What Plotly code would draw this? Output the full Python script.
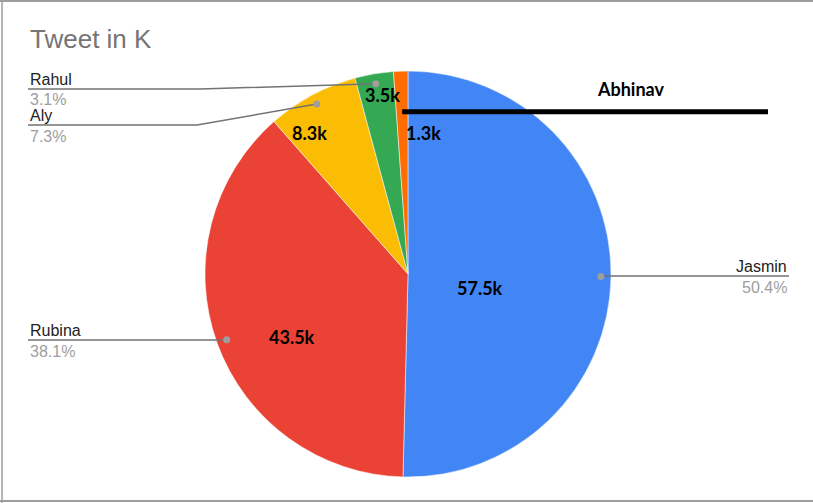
import math
import plotly.graph_objects as go

# ---- data ----
names = ["Jasmin", "Rubina", "Aly", "Rahul", "Abhinav"]
tweets_k = [57.5, 43.5, 8.3, 3.5, 1.3]
colors = ["#4285F4", "#EA4335", "#FBBC04", "#34A853", "#FF6D01"]
title_text = "Tweet in K"

# ---- style: value-label placement (radius fraction, angle nudge in degrees) ----
value_label_rf = [0.36, 0.65, 0.85, 0.89, 0.70]
value_label_dang = [10, -8.5, -6.7, 1.5, 8.5]

W, H = 813, 503
CX, CY, R = 408, 274, 203  # pie geometry in px


def px(x):
    return x / W


def py(y):
    return 1 - y / H


total = sum(tweets_k)
fracs = [v / total for v in tweets_k]
mids = []
acc = 0
for f in fracs:
    mids.append((acc + f / 2) * 2 * math.pi)
    acc += f


def polar(i, rf, dang=0.0):
    a = mids[i] + math.radians(dang)
    return CX + math.sin(a) * R * rf, CY - math.cos(a) * R * rf


fig = go.Figure()
fig.add_trace(go.Pie(
    labels=names, values=tweets_k, sort=False, direction="clockwise", rotation=0,
    marker=dict(colors=colors, line=dict(color="white", width=0.5)),
    textinfo="none",
    domain=dict(x=[px(CX - R), px(CX + R)], y=[py(CY + R), py(CY - R)]),
    showlegend=False, hoverinfo="label+value+percent",
))

shapes = []
annotations = []
lab_font = dict(family="Liberation Sans, Arial", size=16, color="#222222")
pct_font = dict(family="Liberation Sans, Arial", size=16, color="#9e9e9e")
val_font = dict(family="Lato", size=18, color="black")
line_col = "#737373"

# value labels inside the pie
for i, v in enumerate(tweets_k):
    lx, ly = polar(i, value_label_rf[i], value_label_dang[i])
    annotations.append(dict(text=f"<b>{v}k</b>", x=px(lx), y=py(ly), xref="paper", yref="paper",
                            xanchor="center", yanchor="middle", showarrow=False, font=val_font))

# outside labels: (index, side, line y, bend x)
label_specs = [
    (0, "right", 276, None),
    (1, "left", 340, None),
    (2, "left", 125, 197),
    (3, "left", 89, 200),
]
for i, side, ly, bend in label_specs:
    dx, dy = polar(i, 0.95)
    pct = f"{fracs[i]*100:.1f}%"
    if side == "right":
        x_end = 789
        path = f"M {px(dx)},{py(dy)} L {px(dx)},{py(ly)} L {px(x_end)},{py(ly)}"
        xa = "right"
    else:
        x_end = 28
        if bend is None:
            path = f"M {px(dx)},{py(dy)} L {px(dx)},{py(ly)} L {px(x_end)},{py(ly)}"
        else:
            path = f"M {px(dx)},{py(dy)} L {px(bend)},{py(ly)} L {px(x_end)},{py(ly)}"
        xa = "left"
    shapes.append(dict(type="path", path=path, xref="paper", yref="paper",
                       line=dict(color=line_col, width=1.5)))
    shapes.append(dict(type="circle", xref="paper", yref="paper",
                       x0=px(dx - 3.5), x1=px(dx + 3.5), y0=py(dy + 3.5), y1=py(dy - 3.5),
                       fillcolor="#9e9e9e", line=dict(width=0)))
    annotations.append(dict(text=names[i], x=px(x_end), y=py(ly - 10), xref="paper", yref="paper",
                            xanchor=xa, yanchor="middle", showarrow=False, font=lab_font))
    annotations.append(dict(text=pct, x=px(x_end), y=py(ly + 11), xref="paper", yref="paper",
                            xanchor=xa, yanchor="middle", showarrow=False, font=pct_font))

# Abhinav hand-drawn marker line and label
ax0, ay0 = polar(4, 0.8)
shapes.append(dict(type="line", xref="paper", yref="paper", x0=px(ax0), y0=py(ay0),
                   x1=px(768), y1=py(ay0), line=dict(color="black", width=5)))
annotations.append(dict(text="<b>" + names[4] + "</b>", x=px(630), y=py(89), xref="paper", yref="paper",
                        xanchor="center", yanchor="middle", showarrow=False, font=val_font))

# frame
shapes.append(dict(type="line", xref="paper", yref="paper", x0=0, x1=1, y0=py(1), y1=py(1),
                   line=dict(color="#9e9e9e", width=2)))
shapes.append(dict(type="line", xref="paper", yref="paper", x0=0, x1=1, y0=py(501), y1=py(501),
                   line=dict(color="#9e9e9e", width=2)))
shapes.append(dict(type="line", xref="paper", yref="paper", x0=px(2), x1=px(2), y0=0, y1=1,
                   line=dict(color="#9e9e9e", width=1.5)))

annotations.append(dict(text=title_text, x=px(28), y=py(39), xref="paper", yref="paper",
                        xanchor="left", yanchor="middle", showarrow=False,
                        font=dict(family="Liberation Sans, Arial", size=26, color="#757575")))

fig.update_layout(
    width=W, height=H, margin=dict(l=0, r=0, t=0, b=0),
    paper_bgcolor="white", plot_bgcolor="white",
    shapes=shapes, annotations=annotations,
)
fig.write_html("out.html")
